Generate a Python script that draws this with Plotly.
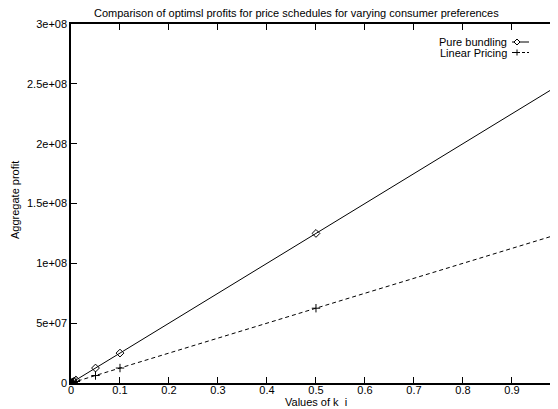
import plotly.graph_objects as go

k_values = [0, 0.001, 0.005, 0.01, 0.05, 0.1, 0.5, 1.0]
pure_bundling = [0, 2.5e5, 1.25e6, 2.5e6, 1.25e7, 2.5e7, 1.25e8, 2.5e8]
linear_pricing = [0, 1.25e5, 6.25e5, 1.25e6, 6.25e6, 1.25e7, 6.25e7, 1.25e8]

x_ticks = [0, 0.1, 0.2, 0.3, 0.4, 0.5, 0.6, 0.7, 0.8, 0.9]
x_labels = ["0", "0.1", "0.2", "0.3", "0.4", "0.5", "0.6", "0.7", "0.8", "0.9"]
y_ticks = [0, 5e7, 1e8, 1.5e8, 2e8, 2.5e8, 3e8]
y_labels = ["0", "5e+07", "1e+08", "1.5e+08", "2e+08", "2.5e+08", "3e+08"]

# page body has an 8px margin; figure occupies window pixels 8..558, 8..409
OFF = 8
W, H = 558 - OFF, 409 - OFF
L, T, B = 71 - OFF, 24 - OFF, 409 - 383
FONT = dict(family="Liberation Sans, Arial, sans-serif", size=11, color="black")

fig = go.Figure()
fig.add_trace(go.Scatter(
    x=k_values, y=pure_bundling, mode="lines+markers", name="Pure bundling",
    line=dict(color="black", width=1),
    marker=dict(symbol="diamond-open", size=6, color="black", line=dict(width=1)),
))
fig.add_trace(go.Scatter(
    x=k_values, y=linear_pricing, mode="lines+markers", name="Linear Pricing",
    line=dict(color="black", width=1, dash="4px,3px"),
    marker=dict(symbol="cross-thin-open", size=6, color="black", line=dict(width=1, color="black")),
))
# invisible trace to activate right-side tick axis
fig.add_trace(go.Scatter(x=[0], y=[0], yaxis="y2", mode="markers",
                         marker=dict(opacity=0), showlegend=False, hoverinfo="skip"))

fig.update_layout(
    width=W, height=H,
    margin=dict(l=L, r=0, t=T, b=B),
    plot_bgcolor="white", paper_bgcolor="white",
    showlegend=False,
    font=FONT,
    xaxis=dict(range=[0, 0.994], tickvals=x_ticks, ticktext=x_labels,
               ticks="inside", ticklen=6, tickcolor="black", tickwidth=1,
               showline=True, linecolor="black", linewidth=1.5, mirror="ticks",
               showgrid=False, zeroline=False, tickfont=FONT,
               ticklabelstandoff=-4),
    yaxis=dict(range=[0, 3e8], tickvals=y_ticks, ticktext=y_labels,
               ticks="inside", ticklen=6, tickcolor="black", tickwidth=1,
               showline=True, linecolor="black", linewidth=1.5,
               showgrid=False, zeroline=False, tickfont=FONT),
    yaxis2=dict(range=[0, 3e8], tickvals=y_ticks, showticklabels=False,
                overlaying="y", side="right",
                ticks="inside", ticklen=6, tickcolor="black", tickwidth=1,
                showline=False, showgrid=False, zeroline=False),
)

pw = W - L
ph = H - T - B

def px_x(p):
    # p: window pixel
    return (p - OFF - L) / pw

def px_y(p):
    return (H - B - (p - OFF)) / ph

annotations = [
    dict(text="Comparison of optimsl profits for price schedules for varying consumer preferences",
         x=px_x(296), y=px_y(13), xref="paper", yref="paper", showarrow=False,
         xanchor="center", yanchor="middle", font=FONT),
    dict(text="Aggregate profit", x=px_x(15), y=px_y(200), xref="paper", yref="paper",
         showarrow=False, textangle=-90, xanchor="center", yanchor="middle", font=FONT),
    dict(text="Values of k  i", x=px_x(316), y=px_y(409), xref="paper", yref="paper",
         showarrow=False, xanchor="center", yanchor="bottom", borderpad=0, font=FONT),
    dict(text="Pure bundling", x=px_x(508), y=px_y(42), xref="paper", yref="paper",
         showarrow=False, xanchor="right", yanchor="middle", borderpad=0, font=FONT),
    dict(text="Linear Pricing", x=px_x(508), y=px_y(52.5), xref="paper", yref="paper",
         showarrow=False, xanchor="right", yanchor="middle", borderpad=0, font=FONT),
]
fig.update_layout(annotations=annotations)

shapes = []
# legend samples
shapes.append(dict(type="line", xref="paper", yref="paper",
                   x0=px_x(512), x1=px_x(529), y0=px_y(42), y1=px_y(42),
                   line=dict(color="black", width=1)))
cx, cy = 517, 42
shapes.append(dict(type="path", xref="paper", yref="paper",
                   path=f"M {px_x(cx-3)} {px_y(cy)} L {px_x(cx)} {px_y(cy-3)} L {px_x(cx+3)} {px_y(cy)} L {px_x(cx)} {px_y(cy+3)} Z",
                   fillcolor="white", line=dict(color="black", width=1)))
shapes.append(dict(type="line", xref="paper", yref="paper",
                   x0=px_x(512), x1=px_x(529), y0=px_y(52.5), y1=px_y(52.5),
                   line=dict(color="black", width=1, dash="3px,2px")))
cx, cy = 517, 52.5
shapes.append(dict(type="line", xref="paper", yref="paper",
                   x0=px_x(cx-3), x1=px_x(cx+3), y0=px_y(cy), y1=px_y(cy),
                   line=dict(color="black", width=1)))
shapes.append(dict(type="line", xref="paper", yref="paper",
                   x0=px_x(cx), x1=px_x(cx), y0=px_y(cy-3), y1=px_y(cy+3),
                   line=dict(color="black", width=1)))
fig.update_layout(shapes=shapes)

fig.write_html("out.html")
